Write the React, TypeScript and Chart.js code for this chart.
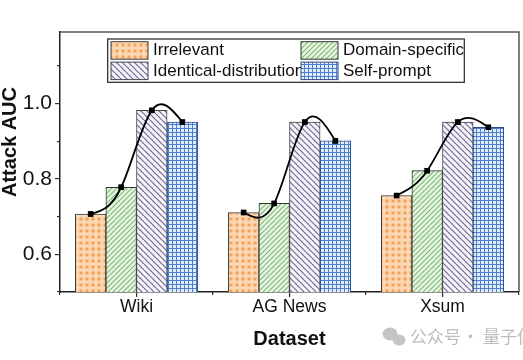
import React, { useEffect, useRef } from "react";
import { Chart, registerables } from "chart.js";

Chart.register(...registerables);

// ---- data ----
const categories = ["Wiki", "AG News", "Xsum"];
const seriesNames = ["Irrelevant", "Domain-specific", "Identical-distribution", "Self-prompt"];
const irrelevant = [0.707, 0.711, 0.756];
const domainSpecific = [0.778, 0.735, 0.822];
const identicalDistribution = [0.982, 0.951, 0.951];
const selfPrompt = [0.951, 0.901, 0.937];
const yMajorTicks = [0.6, 0.8, 1.0];
const yTickLabels = ["0.6", "0.8", "1.0"];
const yMinorTicks = [0.5, 0.7, 0.9, 1.1];
const yMin = 0.5;
const yMax = 1.19;
const xTitle = "Dataset";
const yTitle = "Attack AUC";
const watermarkParts = ["公众号", "·", "量子位"];

const FONT = "'Liberation Sans', Arial, Helvetica, sans-serif";
const CAT_PCT = 0.8;

function makeTile(ctx: CanvasRenderingContext2D, size: number, draw: (g: CanvasRenderingContext2D, s: number) => void) {
  const c = document.createElement("canvas");
  c.width = size;
  c.height = size;
  const g = c.getContext("2d")!;
  draw(g, size);
  return ctx.createPattern(c, "repeat")!;
}

function makePatterns(ctx: CanvasRenderingContext2D) {
  const dots = makeTile(ctx, 6, (g, s) => {
    g.fillStyle = "#fcd9b6";
    g.fillRect(0, 0, s, s);
    g.fillStyle = "#f8bf88";
    g.beginPath();
    g.arc(3, 3, 2.3, 0, Math.PI * 2);
    g.fill();
    g.fillStyle = "#f19a4d";
    g.beginPath();
    g.arc(3, 3, 1.1, 0, Math.PI * 2);
    g.fill();
  });
  const fwd = makeTile(ctx, 5, (g, s) => {
    g.fillStyle = "#e6f4e2";
    g.fillRect(0, 0, s, s);
    g.strokeStyle = "#7db873";
    g.lineWidth = 1.1;
    for (const k of [-s, 0, s]) {
      g.beginPath();
      g.moveTo(k, s);
      g.lineTo(k + s, 0);
      g.stroke();
    }
  });
  const back = makeTile(ctx, 6, (g, s) => {
    g.fillStyle = "#f6f4fa";
    g.fillRect(0, 0, s, s);
    g.strokeStyle = "#6f6a94";
    g.lineWidth = 1.2;
    for (const k of [-s, 0, s]) {
      g.beginPath();
      g.moveTo(k, 0);
      g.lineTo(k + s, s);
      g.stroke();
    }
  });
  const grid = makeTile(ctx, 4, (g, s) => {
    g.fillStyle = "#e2edf9";
    g.fillRect(0, 0, s, s);
    g.fillStyle = "#4d7fd0";
    g.fillRect(0, 0, s, 1);
    g.fillRect(0, 0, 1, s);
  });
  return [dots, fwd, back, grid];
}

function drawNaturalSpline(ctx: CanvasRenderingContext2D, pts: { x: number; y: number }[]) {
  const n = pts.length;
  if (n < 2) return;
  const h: number[] = [];
  for (let i = 0; i < n - 1; i++) h.push(pts[i + 1].x - pts[i].x);
  const M = new Array(n).fill(0);
  const a: number[] = [], b: number[] = [], c: number[] = [], d: number[] = [];
  for (let i = 1; i < n - 1; i++) {
    a.push(h[i - 1]);
    b.push(2 * (h[i - 1] + h[i]));
    c.push(h[i]);
    d.push(6 * ((pts[i + 1].y - pts[i].y) / h[i] - (pts[i].y - pts[i - 1].y) / h[i - 1]));
  }
  const m = b.length;
  for (let i = 1; i < m; i++) {
    const w = a[i] / b[i - 1];
    b[i] -= w * c[i - 1];
    d[i] -= w * d[i - 1];
  }
  const sol = new Array(m).fill(0);
  for (let i = m - 1; i >= 0; i--) sol[i] = (d[i] - (i < m - 1 ? c[i] * sol[i + 1] : 0)) / b[i];
  for (let i = 0; i < m; i++) M[i + 1] = sol[i];
  ctx.beginPath();
  ctx.moveTo(pts[0].x, pts[0].y);
  for (let i = 0; i < n - 1; i++) {
    const p0 = pts[i], p1 = pts[i + 1], hh = h[i];
    const sec = (p1.y - p0.y) / hh;
    const s0 = sec - (hh * (2 * M[i] + M[i + 1])) / 6;
    const s1 = sec + (hh * (M[i] + 2 * M[i + 1])) / 6;
    ctx.bezierCurveTo(p0.x + hh / 3, p0.y + (hh / 3) * s0, p1.x - hh / 3, p1.y - (hh / 3) * s1, p1.x, p1.y);
  }
  ctx.stroke();
}

const decorPlugin = {
  id: "decor",
  afterDatasetsDraw(chart: any) {
    const ctx: CanvasRenderingContext2D = chart.ctx;
    chart.data.datasets.forEach((ds: any, i: number) => {
      if (ds.type !== "line") return;
      const meta = chart.getDatasetMeta(i);
      const pts = meta.data.map((p: any) => ({ x: p.x, y: p.y }));
      ctx.save();
      ctx.strokeStyle = ds.borderColor;
      ctx.lineWidth = ds.borderWidth;
      drawNaturalSpline(ctx, pts);
      ctx.restore();
      meta.data.forEach((p: any) => p.draw(ctx, chart.chartArea));
    });
  },
  afterDraw(chart: any) {
    const ctx: CanvasRenderingContext2D = chart.ctx;
    const ca = chart.chartArea;
    ctx.save();
    // frame top and right
    ctx.strokeStyle = "#555";
    ctx.lineWidth = 1.5;
    ctx.beginPath();
    ctx.moveTo(ca.left, ca.top);
    ctx.lineTo(ca.right, ca.top);
    ctx.lineTo(ca.right, ca.bottom);
    ctx.stroke();

    // legend
    const bars = chart.data.datasets.filter((d: any) => d.type === "bar");
    const lx = ca.left + 47.7, ly = ca.top + 7, lw = 356.6, lh = 43.3;
    ctx.fillStyle = "#fff";
    ctx.fillRect(lx, ly, lw, lh);
    ctx.strokeStyle = "#222";
    ctx.lineWidth = 1.2;
    ctx.strokeRect(lx, ly, lw, lh);
    const entries = bars.map((ds: any, k: number) => ({
      ds,
      col: k % 2,
      row: Math.floor(k / 2),
    }));
    ctx.font = `17px ${FONT}`;
    ctx.textBaseline = "middle";
    ctx.textAlign = "left";
    const sx = (col: number) => lx + 3.3 + col * 190;
    const sy = (row: number) => ly + 2.7 + row * 20.4;
    entries.forEach((e: any) => {
      ctx.fillStyle = "#111";
      ctx.fillText(e.ds.label, sx(e.col) + 42, sy(e.row) + 9);
    });
    entries.forEach((e: any) => {
      ctx.fillStyle = e.ds.backgroundColor;
      ctx.fillRect(sx(e.col), sy(e.row), 37, 17.5);
      ctx.strokeStyle = e.ds.borderColor;
      ctx.lineWidth = 1;
      ctx.strokeRect(sx(e.col), sy(e.row), 37, 17.5);
    });

    // y title
    ctx.fillStyle = "#111";
    ctx.font = `bold 20px ${FONT}`;
    ctx.textAlign = "center";
    ctx.textBaseline = "alphabetic";
    ctx.save();
    ctx.translate(16, ca.top + 110);
    ctx.rotate(-Math.PI / 2);
    ctx.fillText(yTitle, 0, 0);
    ctx.restore();

    // x title
    ctx.fillText(xTitle, (ca.left + ca.right) / 2, 344.5);

    // watermark
    ctx.fillStyle = "#c4c4c4";
    ctx.beginPath();
    ctx.ellipse(390, 334, 7.5, 6.5, 0, 0, Math.PI * 2);
    ctx.fill();
    ctx.beginPath();
    ctx.ellipse(399, 340, 6.5, 5.5, 0, 0, Math.PI * 2);
    ctx.fill();
    ctx.fillStyle = "#bdbdbd";
    ctx.font = `17px 'Noto Sans CJK SC', sans-serif`;
    ctx.textBaseline = "middle";
    ctx.textAlign = "left";
    ctx.fillText(watermarkParts[0], 410, 337);
    ctx.textAlign = "center";
    ctx.fillText(watermarkParts[1], 470.5, 337);
    ctx.textAlign = "left";
    ctx.fillText(watermarkParts[2], 483, 337);
    ctx.restore();
  },
};

export default function App() {
  const ref = useRef<HTMLCanvasElement>(null);
  useEffect(() => {
    const canvas = ref.current!;
    const ctx = canvas.getContext("2d")!;
    const patterns = makePatterns(ctx);
    const series = [irrelevant, domainSpecific, identicalDistribution, selfPrompt];
    const borders = ["#3a3a3a", "#333", "#444", "#2c4d8a"];
    // position of bar k inside a category group (group occupies CAT_PCT of the category)
    const offset = (k: number) => -CAT_PCT / 2 + (CAT_PCT / (2 * series.length)) * (2 * k + 1);
    const barDatasets = series.map((vals, k) => ({
      type: "bar" as const,
      label: seriesNames[k],
      data: categories.map((_, g) => ({ x: g + offset(k), y: vals[g] })),
      backgroundColor: patterns[k],
      borderColor: borders[k],
      borderWidth: 1,
      borderSkipped: "start" as const,
      grouped: false,
      categoryPercentage: 1,
      barPercentage: 1,
      xAxisID: "x",
      yAxisID: "y",
      order: 2,
    }));
    const lineDatasets = categories.map((cat, g) => ({
      type: "line" as const,
      label: cat + " trend",
      data: series.map((vals, k) => ({ x: g + offset(k), y: vals[g] })),
      showLine: false,
      borderColor: "#000",
      borderWidth: 1.8,
      pointStyle: "rect" as const,
      pointRadius: 3.8,
      pointBackgroundColor: "#000",
      pointBorderWidth: 0,
      xAxisID: "x",
      yAxisID: "y",
      order: 1,
    }));
    const chart = new Chart(canvas, {
      type: "bar",
      data: { datasets: [...barDatasets, ...lineDatasets] as any },
      options: {
        responsive: false,
        animation: false,
        devicePixelRatio: 1,
        layout: { padding: { top: 32, right: 4, left: 0, bottom: 0 } },
        plugins: { legend: { display: false }, tooltip: { enabled: false } },
        scales: {
          x: {
            type: "linear",
            position: "bottom",
            weight: 1,
            offset: false,
            min: -0.5,
            max: categories.length - 0.5,
            grid: { offset: false, drawOnChartArea: false, drawTicks: true, tickLength: 5, color: "#333", lineWidth: 1.2 },
            border: { display: true, color: "#222", width: 1.5 },
            ticks: {
              color: "#111",
              font: { family: FONT, size: 17.5 },
              padding: 0,
              maxRotation: 0,
              autoSkip: false,
              callback: (v: any) => categories[Math.round(v)] ?? "",
            },
            afterBuildTicks: (s: any) => {
              s.ticks = categories.map((_, i) => ({ value: i }));
            },
            afterFit: (s: any) => {
              s.height = 68;
            },
          },
          x2: {
            type: "linear",
            position: "bottom",
            weight: 0,
            offset: false,
            min: -0.5,
            max: categories.length - 0.5,
            grid: { offset: false, drawOnChartArea: false, drawTicks: true, tickLength: 3, color: "#333", lineWidth: 1.2 },
            border: { display: false },
            ticks: { display: false },
            afterBuildTicks: (s: any) => {
              s.ticks = categories.map((_, i) => ({ value: i - 0.5 })).concat([{ value: categories.length - 0.5 }]);
            },
            afterFit: (s: any) => {
              s.height = 0;
            },
          },
          y: {
            type: "linear",
            position: "left",
            weight: 1,
            min: yMin,
            max: yMax,
            grid: { drawOnChartArea: false, drawTicks: true, tickLength: 5, color: "#333", lineWidth: 1.2 },
            border: { display: true, color: "#222", width: 1.5 },
            ticks: {
              color: "#111",
              font: { family: FONT, size: 21 },
              padding: 3,
              callback: (v: any) => {
                const idx = yMajorTicks.findIndex((t) => Math.abs(t - v) < 1e-6);
                return idx >= 0 ? yTickLabels[idx] : "";
              },
            },
            afterBuildTicks: (s: any) => {
              s.ticks = yMajorTicks.map((v) => ({ value: v }));
            },
            afterFit: (s: any) => {
              s.width = 60;
            },
          },
          y2: {
            type: "linear",
            position: "left",
            weight: 0,
            min: yMin,
            max: yMax,
            grid: { drawOnChartArea: false, drawTicks: true, tickLength: 3, color: "#333", lineWidth: 1.2 },
            border: { display: false },
            ticks: { display: false },
            afterBuildTicks: (s: any) => {
              s.ticks = yMinorTicks.map((v) => ({ value: v }));
            },
            afterFit: (s: any) => {
              s.width = 0;
            },
          },
        },
      } as any,
      plugins: [decorPlugin],
    });
    return () => chart.destroy();
  }, []);
  return (
    <div style={{ position: "fixed", left: 0, top: 0, width: 523, height: 360, background: "#fff" }}>
      <canvas ref={ref} width={523} height={360} style={{ display: "block", width: 523, height: 360 }} />
    </div>
  );
}
